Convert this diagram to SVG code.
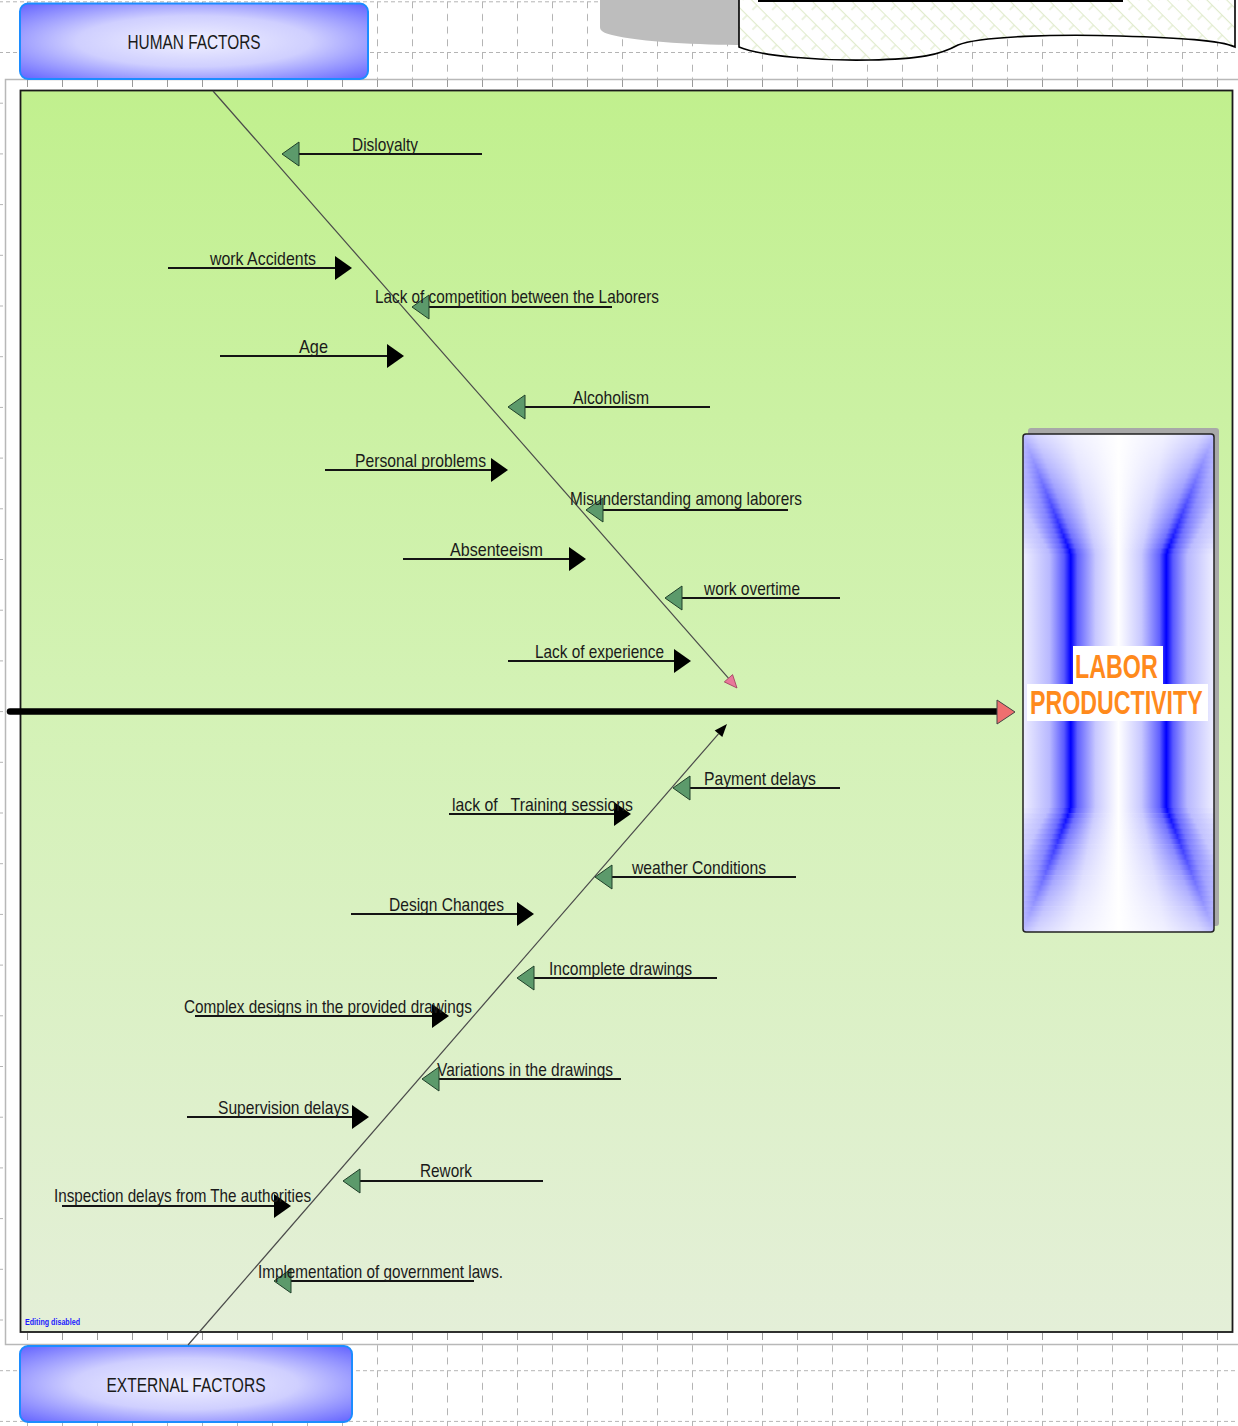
<svg xmlns="http://www.w3.org/2000/svg" width="1238" height="1426" viewBox="0 0 1238 1426">
<defs>
<style>
.lbl{font-family:'Liberation Sans',Arial,sans-serif;font-size:19px;fill:#1a1a1a}
.cat{font-family:'Liberation Sans',Arial,sans-serif;font-size:21px;fill:#1a1a1a}
.eff{font-family:'Liberation Sans',Arial,sans-serif;font-weight:bold;font-size:33px;fill:#ff8a1c}
.hz{stroke:#141414;stroke-width:1.8;fill:none}
.bone{stroke:#4a4a4a;stroke-width:1.2;fill:none}
.gt{fill:#5c9a6b;stroke:#20402a;stroke-width:1}
.bt{fill:#000}
.s{fill:url(#eg)}
</style>
<pattern id="grid" patternUnits="userSpaceOnUse" x="27" y="1.3" width="35" height="50.7">
<line x1="0" y1="0.5" x2="35" y2="0.5" stroke="#b4b4b4" stroke-width="1" stroke-dasharray="4 3"/>
<line x1="0.5" y1="0" x2="0.5" y2="50.7" stroke="#b4b4b4" stroke-width="1" stroke-dasharray="7 5.675"/>
</pattern>
<pattern id="tick" patternUnits="userSpaceOnUse" x="27" y="0" width="35" height="20">
<rect x="0" y="0" width="1" height="20" fill="#9a9a9a"/>
</pattern>
<pattern id="hatch" patternUnits="userSpaceOnUse" width="14" height="14" patternTransform="rotate(45)">
<line x1="0" y1="0.5" x2="14" y2="0.5" stroke="#e0ebcc" stroke-width="1.2"/>
<line x1="7" y1="0" x2="7" y2="7" stroke="#e0ebcc" stroke-width="1.2"/>
</pattern>
<linearGradient id="pg" x1="0" y1="0" x2="0" y2="1">
<stop offset="0" stop-color="#c1f08e"/>
<stop offset="0.5" stop-color="#d4f2b6"/>
<stop offset="1" stop-color="#e4efd8"/>
</linearGradient>
<radialGradient id="hb" cx="0.5" cy="0.5" r="0.75">
<stop offset="0" stop-color="#f0f0ff"/>
<stop offset="0.45" stop-color="#cfcfff"/>
<stop offset="1" stop-color="#5555ff"/>
</radialGradient>
<linearGradient id="eg" x1="0" y1="0" x2="1" y2="0">
<stop offset="0" stop-color="#eeeeff"/>
<stop offset="0.14" stop-color="#b8b8ff"/>
<stop offset="0.215" stop-color="#5a5aff"/>
<stop offset="0.25" stop-color="#0000ff"/>
<stop offset="0.285" stop-color="#6060ff"/>
<stop offset="0.38" stop-color="#c8c8ff"/>
<stop offset="0.5" stop-color="#ffffff"/>
<stop offset="0.62" stop-color="#c8c8ff"/>
<stop offset="0.715" stop-color="#6060ff"/>
<stop offset="0.75" stop-color="#0000ff"/>
<stop offset="0.785" stop-color="#5a5aff"/>
<stop offset="0.86" stop-color="#b8b8ff"/>
<stop offset="1" stop-color="#eeeeff"/>
</linearGradient>
<linearGradient id="ft" x1="0" y1="0" x2="0" y2="1">
<stop offset="0" stop-color="#fff" stop-opacity="0.75"/>
<stop offset="1" stop-color="#fff" stop-opacity="0"/>
</linearGradient>
<linearGradient id="fb" x1="0" y1="1" x2="0" y2="0">
<stop offset="0" stop-color="#fff" stop-opacity="0.75"/>
<stop offset="1" stop-color="#fff" stop-opacity="0"/>
</linearGradient>
<clipPath id="ec"><rect x="1023" y="434" width="191" height="498" rx="3"/></clipPath>
<path id="gtri" d="M0,0 L17,-12 L17,12 Z"/>
<path id="btri" d="M0,-12 L17,0 L0,12 Z"/>
</defs>

<rect width="1238" height="1426" fill="#fff"/>
<rect width="1238" height="1426" fill="url(#grid)"/>

<!-- frame -->
<rect x="5.5" y="79.5" width="1240" height="1265" fill="#fff" stroke="#b8b8b8" stroke-width="1.5"/>
<rect x="6" y="80" width="1232" height="7" fill="url(#tick)"/>
<rect x="6" y="1333" width="1232" height="7" fill="url(#tick)"/>

<!-- panel -->
<rect x="20.5" y="90.5" width="1212" height="1241.5" fill="url(#pg)" stroke="#1a1a1a" stroke-width="1.8"/>

<!-- top right shapes -->
<path d="M600,0 H745 V45 C700,45 640,42 612,35 C604,33 600,31 600,27 Z" fill="#bdbdbd"/>
<g id="note">
<path d="M739,-2 L739,47 C760,56 820,61 870,60 C920,59 940,55 958,45 C980,36 1060,34 1120,36 C1180,38 1220,40 1235,47 L1235,-2 Z" fill="#fff"/>
<path d="M739,-2 L739,47 C760,56 820,61 870,60 C920,59 940,55 958,45 C980,36 1060,34 1120,36 C1180,38 1220,40 1235,47 L1235,-2 Z" fill="url(#hatch)" stroke="#000" stroke-width="1.6"/>
<rect x="758" y="-1" width="365" height="3" fill="#000"/>
</g>

<g id="human-factors">
<rect x="20" y="3.5" width="348" height="75.5" rx="8" fill="url(#hb)" stroke="#1c8cff" stroke-width="2"/>
<text class="cat" x="194" y="49" text-anchor="middle" textLength="133" lengthAdjust="spacingAndGlyphs">HUMAN FACTORS</text>
</g>

<g id="external-factors">
<rect x="20" y="1346" width="332" height="76" rx="8" fill="url(#hb)" stroke="#1c8cff" stroke-width="2"/>
<text class="cat" x="186" y="1392" text-anchor="middle" textLength="159" lengthAdjust="spacingAndGlyphs">EXTERNAL FACTORS</text>
</g>

<g id="labor-productivity">
<rect x="1028" y="428" width="191" height="498" rx="3" fill="#a8a8a8"/>
<g clip-path="url(#ec)">
<rect x="1023" y="434" width="191" height="498" fill="#fff"/>
<rect class="s" x="1023" y="552" width="191" height="257"/>
<rect class="s" x="1021" y="548" width="195" height="5.5"/>
<rect class="s" x="1017" y="543" width="203" height="5.5"/>
<rect class="s" x="1013" y="538" width="211" height="5.5"/>
<rect class="s" x="1009" y="533" width="219" height="5.5"/>
<rect class="s" x="1005" y="528" width="227" height="5.5"/>
<rect class="s" x="1001" y="523" width="235" height="5.5"/>
<rect class="s" x="997" y="518" width="243" height="5.5"/>
<rect class="s" x="993" y="513" width="251" height="5.5"/>
<rect class="s" x="989" y="508" width="259" height="5.5"/>
<rect class="s" x="985" y="503" width="267" height="5.5"/>
<rect class="s" x="981" y="498" width="275" height="5.5"/>
<rect class="s" x="977" y="493" width="283" height="5.5"/>
<rect class="s" x="973" y="488" width="291" height="5.5"/>
<rect class="s" x="969" y="483" width="299" height="5.5"/>
<rect class="s" x="965" y="478" width="307" height="5.5"/>
<rect class="s" x="961" y="473" width="315" height="5.5"/>
<rect class="s" x="957" y="468" width="323" height="5.5"/>
<rect class="s" x="953" y="463" width="331" height="5.5"/>
<rect class="s" x="949" y="458" width="339" height="5.5"/>
<rect class="s" x="945" y="453" width="347" height="5.5"/>
<rect class="s" x="941" y="448" width="355" height="5.5"/>
<rect class="s" x="937" y="443" width="363" height="5.5"/>
<rect class="s" x="933" y="438" width="371" height="5.5"/>
<rect class="s" x="929" y="433" width="379" height="5.5"/>
<rect class="s" x="1021" y="808" width="195" height="5.7"/>
<rect class="s" x="1017" y="813.2" width="203" height="5.7"/>
<rect class="s" x="1013" y="818.3" width="211" height="5.7"/>
<rect class="s" x="1009" y="823.5" width="219" height="5.7"/>
<rect class="s" x="1005" y="828.7" width="227" height="5.7"/>
<rect class="s" x="1001" y="833.8" width="235" height="5.7"/>
<rect class="s" x="997" y="839" width="243" height="5.7"/>
<rect class="s" x="993" y="844.2" width="251" height="5.7"/>
<rect class="s" x="989" y="849.3" width="259" height="5.7"/>
<rect class="s" x="985" y="854.5" width="267" height="5.7"/>
<rect class="s" x="981" y="859.7" width="275" height="5.7"/>
<rect class="s" x="977" y="864.8" width="283" height="5.7"/>
<rect class="s" x="973" y="870" width="291" height="5.7"/>
<rect class="s" x="969" y="875.2" width="299" height="5.7"/>
<rect class="s" x="965" y="880.3" width="307" height="5.7"/>
<rect class="s" x="961" y="885.5" width="315" height="5.7"/>
<rect class="s" x="957" y="890.7" width="323" height="5.7"/>
<rect class="s" x="953" y="895.8" width="331" height="5.7"/>
<rect class="s" x="949" y="901" width="339" height="5.7"/>
<rect class="s" x="945" y="906.2" width="347" height="5.7"/>
<rect class="s" x="941" y="911.3" width="355" height="5.7"/>
<rect class="s" x="937" y="916.5" width="363" height="5.7"/>
<rect class="s" x="933" y="921.7" width="371" height="5.7"/>
<rect class="s" x="929" y="926.8" width="379" height="5.7"/>
<rect x="1023" y="434" width="191" height="119" fill="url(#ft)"/>
<rect x="1023" y="808" width="191" height="124" fill="url(#fb)"/>
</g>
<rect x="1023" y="434" width="191" height="498" rx="3" fill="none" stroke="#222" stroke-width="1.5"/>
<rect x="1073" y="646" width="90" height="38" fill="#fff"/>
<rect x="1027" y="684" width="181" height="37" fill="#fff"/>
<text class="eff" transform="translate(1075,678) scale(0.705,1)">LABOR</text>
<text class="eff" transform="translate(1030,714) scale(0.703,1)">PRODUCTIVITY</text>
</g>

<g id="connectors">
<line x1="10" y1="711.5" x2="998" y2="711.5" stroke="#000" stroke-width="6.5" stroke-linecap="round"/>
<polygon points="997,700 1015,712 997,724" fill="#ee6f6f" stroke="#444" stroke-width="1"/>
<line class="bone" x1="213" y1="91" x2="728.4" y2="678.2"/>
<polygon points="737,688 724.3,681.9 732.6,674.6" fill="#e8789a" stroke="#9a3a5a" stroke-width="0.8"/>
<line class="bone" x1="188" y1="1345" x2="718.5" y2="733.8"/>
<polygon points="727,724 722.3,737.1 714.7,730.5" fill="#000"/>
<line class="hz" x1="298" y1="154" x2="482" y2="154"/><use href="#gtri" x="282" y="154" class="gt"/>
<line class="hz" x1="428" y1="307" x2="612" y2="307"/><use href="#gtri" x="412" y="307" class="gt"/>
<line class="hz" x1="524" y1="407" x2="710" y2="407"/><use href="#gtri" x="508" y="407" class="gt"/>
<line class="hz" x1="602" y1="510" x2="788" y2="510"/><use href="#gtri" x="586" y="510" class="gt"/>
<line class="hz" x1="681" y1="598" x2="840" y2="598"/><use href="#gtri" x="665" y="598" class="gt"/>
<line class="hz" x1="168" y1="268" x2="336" y2="268"/><use href="#btri" x="335" y="268" class="bt"/>
<line class="hz" x1="220" y1="356" x2="388" y2="356"/><use href="#btri" x="387" y="356" class="bt"/>
<line class="hz" x1="325" y1="470" x2="492" y2="470"/><use href="#btri" x="491" y="470" class="bt"/>
<line class="hz" x1="403" y1="559" x2="570" y2="559"/><use href="#btri" x="569" y="559" class="bt"/>
<line class="hz" x1="508" y1="661" x2="675" y2="661"/><use href="#btri" x="674" y="661" class="bt"/>
<line class="hz" x1="689" y1="788" x2="840" y2="788"/><use href="#gtri" x="673" y="788" class="gt"/>
<line class="hz" x1="611" y1="877" x2="796" y2="877"/><use href="#gtri" x="595" y="877" class="gt"/>
<line class="hz" x1="533" y1="978" x2="717" y2="978"/><use href="#gtri" x="517" y="978" class="gt"/>
<line class="hz" x1="438" y1="1079" x2="621" y2="1079"/><use href="#gtri" x="422" y="1079" class="gt"/>
<line class="hz" x1="359" y1="1181" x2="543" y2="1181"/><use href="#gtri" x="343" y="1181" class="gt"/>
<line class="hz" x1="290" y1="1281" x2="474" y2="1281"/><use href="#gtri" x="274" y="1281" class="gt"/>
<line class="hz" x1="449" y1="814" x2="615" y2="814"/><use href="#btri" x="614" y="814" class="bt"/>
<line class="hz" x1="351" y1="914" x2="518" y2="914"/><use href="#btri" x="517" y="914" class="bt"/>
<line class="hz" x1="195" y1="1016" x2="433" y2="1016"/><use href="#btri" x="432" y="1016" class="bt"/>
<line class="hz" x1="187" y1="1117" x2="353" y2="1117"/><use href="#btri" x="352" y="1117" class="bt"/>
<line class="hz" x1="62" y1="1206" x2="275" y2="1206"/><use href="#btri" x="274" y="1206" class="bt"/>
</g>

<g id="cause-disloyalty"><text class="lbl" x="352" y="151" textLength="66" lengthAdjust="spacingAndGlyphs">Disloyalty</text></g>
<g id="cause-work-accidents"><text class="lbl" x="210" y="265" textLength="106" lengthAdjust="spacingAndGlyphs">work Accidents</text></g>
<g id="cause-lack-competition"><text class="lbl" x="375" y="303" textLength="284" lengthAdjust="spacingAndGlyphs">Lack of competition between the Laborers</text></g>
<g id="cause-age"><text class="lbl" x="299" y="353" textLength="29" lengthAdjust="spacingAndGlyphs">Age</text></g>
<g id="cause-alcoholism"><text class="lbl" x="573" y="404" textLength="76" lengthAdjust="spacingAndGlyphs">Alcoholism</text></g>
<g id="cause-personal-problems"><text class="lbl" x="355" y="467" textLength="131" lengthAdjust="spacingAndGlyphs">Personal problems</text></g>
<g id="cause-misunderstanding"><text class="lbl" x="570" y="505" textLength="232" lengthAdjust="spacingAndGlyphs">Misunderstanding among laborers</text></g>
<g id="cause-absenteeism"><text class="lbl" x="450" y="556" textLength="93" lengthAdjust="spacingAndGlyphs">Absenteeism</text></g>
<g id="cause-work-overtime"><text class="lbl" x="704" y="595" textLength="96" lengthAdjust="spacingAndGlyphs">work overtime</text></g>
<g id="cause-lack-experience"><text class="lbl" x="535" y="658" textLength="129" lengthAdjust="spacingAndGlyphs">Lack of experience</text></g>

<g id="cause-payment-delays"><text class="lbl" x="704" y="785" textLength="112" lengthAdjust="spacingAndGlyphs">Payment delays</text></g>
<g id="cause-training"><text class="lbl" x="452" y="811" textLength="181" lengthAdjust="spacingAndGlyphs" xml:space="preserve">lack of   Training sessions</text></g>
<g id="cause-weather"><text class="lbl" x="632" y="874" textLength="134" lengthAdjust="spacingAndGlyphs">weather Conditions</text></g>
<g id="cause-design-changes"><text class="lbl" x="389" y="911" textLength="115" lengthAdjust="spacingAndGlyphs">Design Changes</text></g>
<g id="cause-incomplete-drawings"><text class="lbl" x="549" y="975" textLength="143" lengthAdjust="spacingAndGlyphs">Incomplete drawings</text></g>
<g id="cause-complex-designs"><text class="lbl" x="184" y="1013" textLength="288" lengthAdjust="spacingAndGlyphs">Complex designs in the provided drawings</text></g>
<g id="cause-variations"><text class="lbl" x="437" y="1076" textLength="176" lengthAdjust="spacingAndGlyphs">Variations in the drawings</text></g>
<g id="cause-supervision"><text class="lbl" x="218" y="1114" textLength="131" lengthAdjust="spacingAndGlyphs">Supervision delays</text></g>
<g id="cause-rework"><text class="lbl" x="420" y="1177" textLength="52" lengthAdjust="spacingAndGlyphs">Rework</text></g>
<g id="cause-inspection"><text class="lbl" x="54" y="1202" textLength="257" lengthAdjust="spacingAndGlyphs">Inspection delays from The authorities</text></g>
<g id="cause-government-laws"><text class="lbl" x="258" y="1278" textLength="245" lengthAdjust="spacingAndGlyphs">Implementation of government laws.</text></g>

<text x="25" y="1325" font-family="'Liberation Sans',Arial,sans-serif" font-size="9" font-weight="bold" fill="#1a1aff" textLength="55" lengthAdjust="spacingAndGlyphs">Editing disabled</text>
</svg>
